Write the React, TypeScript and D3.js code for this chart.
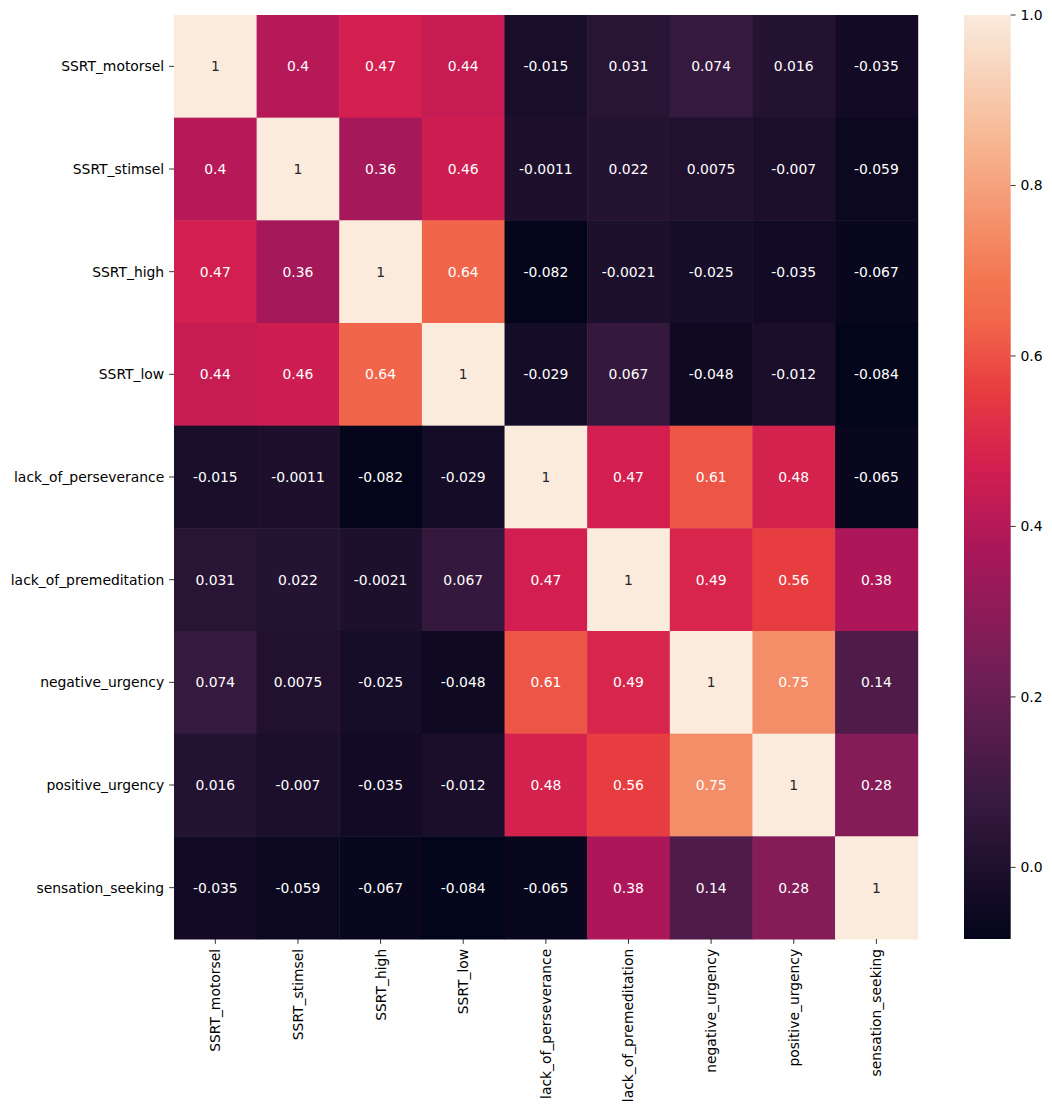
import React from "react";
import * as d3 from "d3";

const labels = [
  "SSRT_motorsel",
  "SSRT_stimsel",
  "SSRT_high",
  "SSRT_low",
  "lack_of_perseverance",
  "lack_of_premeditation",
  "negative_urgency",
  "positive_urgency",
  "sensation_seeking",
];

const row0 = [1, 0.4, 0.47, 0.44, -0.015, 0.031, 0.074, 0.016, -0.035];
const row1 = [0.4, 1, 0.36, 0.46, -0.0011, 0.022, 0.0075, -0.007, -0.059];
const row2 = [0.47, 0.36, 1, 0.64, -0.082, -0.0021, -0.025, -0.035, -0.067];
const row3 = [0.44, 0.46, 0.64, 1, -0.029, 0.067, -0.048, -0.012, -0.084];
const row4 = [-0.015, -0.0011, -0.082, -0.029, 1, 0.47, 0.61, 0.48, -0.065];
const row5 = [0.031, 0.022, -0.0021, 0.067, 0.47, 1, 0.49, 0.56, 0.38];
const row6 = [0.074, 0.0075, -0.025, -0.048, 0.61, 0.49, 1, 0.75, 0.14];
const row7 = [0.016, -0.007, -0.035, -0.012, 0.48, 0.56, 0.75, 1, 0.28];
const row8 = [-0.035, -0.059, -0.067, -0.084, -0.065, 0.38, 0.14, 0.28, 1];
const matrix = [row0, row1, row2, row3, row4, row5, row6, row7, row8];

const colorbarTicks = [0.0, 0.2, 0.4, 0.6, 0.8, 1.0];

// rocket colormap approximation
const rocketPos = [0, 0.143, 0.286, 0.429, 0.511, 0.594, 0.668, 0.714, 0.857, 1];
const rocketCols = [
  "#03051a",
  "#35193e",
  "#701f57",
  "#ad1759",
  "#d21f50",
  "#e73c40",
  "#f1664a",
  "#f37651",
  "#f6b48f",
  "#faebdd",
];

const rocket = d3
  .scaleLinear<string>()
  .domain(rocketPos)
  .range(rocketCols)
  .interpolate(d3.interpolateRgb)
  .clamp(true);

function luminance(c: string) {
  const rgb = d3.rgb(c);
  const lin = (v: number) => {
    const s = v / 255;
    return s <= 0.03928 ? s / 12.92 : Math.pow((s + 0.055) / 1.055, 2.4);
  };
  return 0.2126 * lin(rgb.r) + 0.7152 * lin(rgb.g) + 0.0722 * lin(rgb.b);
}

const fmt = (v: number) => d3.format(".2~g")(v).replace("\u2212", "-");

export default function App() {
  const W = 1052;
  const H = 1113;
  const left = 174;
  const right = 917.7;
  const top = 15;
  const bottom = 939;
  const font = "DejaVu Sans, sans-serif";
  const fs = 13.9;

  const all = matrix.flat();
  const vmin = d3.min(all) as number;
  const vmax = d3.max(all) as number;
  const norm = d3.scaleLinear().domain([vmin, vmax]).range([0, 1]);
  const color = (v: number) => rocket(norm(v));

  const x = d3.scaleBand<string>().domain(labels).range([left, right]);
  const y = d3.scaleBand<string>().domain(labels).range([top, bottom]);

  const cbX0 = 964;
  const cbX1 = 1010.7;
  const cbY = d3.scaleLinear().domain([vmin, vmax]).range([bottom, top]);
  const gradStops = d3.range(0, 201).map((i) => i / 200);

  return (
    <svg
      width={W}
      height={H}
      style={{ position: "absolute", left: 0, top: 0, background: "#fff" }}
      fontFamily={font}
    >
      <defs>
        <linearGradient id="cbgrad" x1="0" y1="1" x2="0" y2="0">
          {gradStops.map((t) => (
            <stop key={t} offset={t} stopColor={rocket(t)} />
          ))}
        </linearGradient>
      </defs>
      <rect x={0} y={0} width={W} height={H} fill="#fff" />
      {matrix.map((row, i) =>
        row.map((v, j) => {
          const c = color(v);
          const cx = (x(labels[j]) as number) + x.bandwidth() / 2;
          const cy = (y(labels[i]) as number) + y.bandwidth() / 2;
          return (
            <g key={`${i}-${j}`}>
              <rect
                x={x(labels[j]) as number}
                y={y(labels[i]) as number}
                width={x.bandwidth() + 0.5}
                height={y.bandwidth() + 0.5}
                fill={c}
              />
              <text
                x={cx}
                y={cy}
                textAnchor="middle"
                dominantBaseline="central"
                fontSize={fs}
                fill={luminance(c) > 0.408 ? "#262626" : "#ffffff"}
              >
                {fmt(v)}
              </text>
            </g>
          );
        })
      )}
      {labels.map((l) => {
        const cy = (y(l) as number) + y.bandwidth() / 2;
        return (
          <g key={"y" + l}>
            <line x1={left - 4.9} x2={left} y1={cy} y2={cy} stroke="#000" strokeWidth={0.8} />
            <text
              x={left - 9.8}
              y={cy}
              textAnchor="end"
              dominantBaseline="central"
              fontSize={fs}
              fill="#000"
            >
              {l}
            </text>
          </g>
        );
      })}
      {labels.map((l) => {
        const cx = (x(l) as number) + x.bandwidth() / 2;
        return (
          <g key={"x" + l}>
            <line x1={cx} x2={cx} y1={bottom} y2={bottom + 4.9} stroke="#000" strokeWidth={0.8} />
            <text
              transform={`translate(${cx},${bottom + 9.8}) rotate(-90)`}
              textAnchor="end"
              dominantBaseline="central"
              fontSize={fs}
              fill="#000"
            >
              {l}
            </text>
          </g>
        );
      })}
      <rect x={cbX0} y={top} width={cbX1 - cbX0} height={bottom - top} fill="url(#cbgrad)" />
      {colorbarTicks.map((t) => (
        <g key={"cb" + t}>
          <line x1={cbX1} x2={cbX1 + 4.9} y1={cbY(t)} y2={cbY(t)} stroke="#000" strokeWidth={0.8} />
          <text
            x={cbX1 + 9.8}
            y={cbY(t)}
            dominantBaseline="central"
            fontSize={fs}
            fill="#000"
          >
            {d3.format(".1f")(t)}
          </text>
        </g>
      ))}
    </svg>
  );
}
